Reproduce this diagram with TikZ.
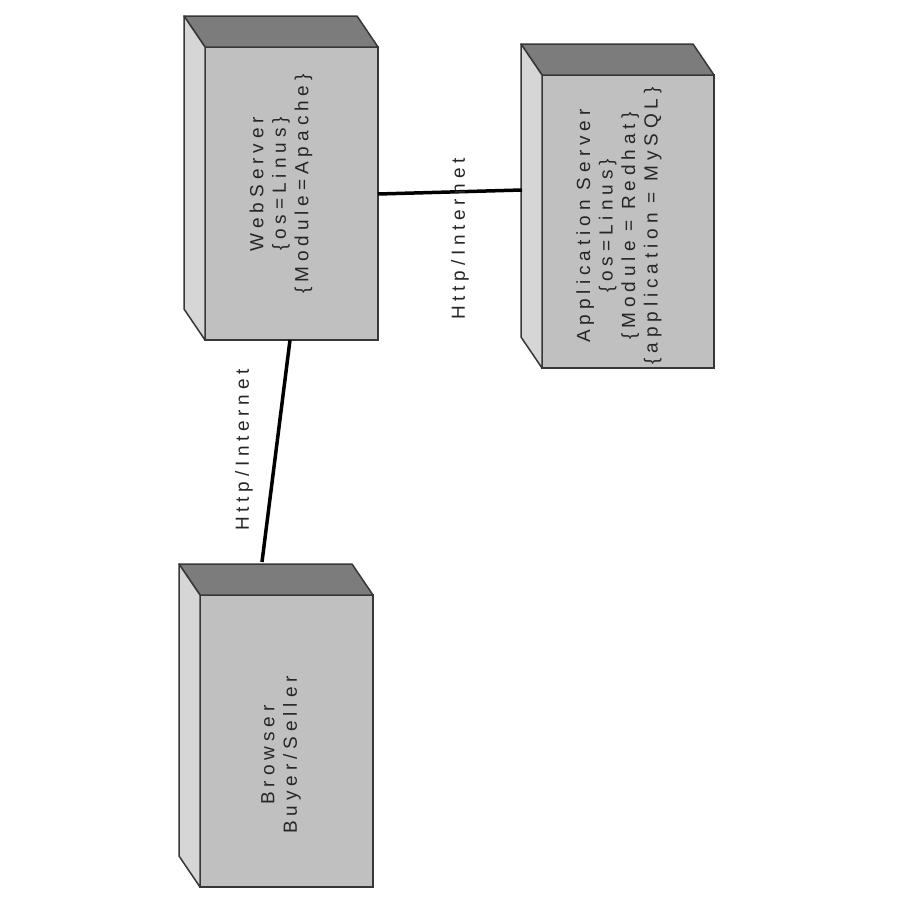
\documentclass[tikz,border=0pt]{standalone}
\usepackage{fontspec}
\setmainfont{Liberation Sans}
\newfontfamily\spaced[LetterSpace=26]{Liberation Sans}
\newfontfamily\labelspaced[LetterSpace=25]{Liberation Sans}
\usetikzlibrary{calc}
\definecolor{boxfront}{RGB}{192,192,192}
\definecolor{boxtop}{RGB}{124,124,124}
\definecolor{boxside}{RGB}{214,214,214}
\definecolor{boxedge}{RGB}{55,55,55}
\begin{document}
\begin{tikzpicture}[x=1pt,y=-1pt,
  front/.style={draw=boxedge, line width=1.5pt, fill=boxfront, inner sep=0pt, outer sep=0pt},
  topface/.style={draw=boxedge, line width=1.5pt, fill=boxtop, line join=round},
  sideface/.style={draw=boxedge, line width=1.5pt, fill=boxside, line join=round},
  boxtext/.style={rotate=90, align=center, font=\spaced\fontsize{19}{22.5}\selectfont, inner sep=0pt, text=black!85},
  linklabel/.style={rotate=90, font=\labelspaced\fontsize{19}{22}\selectfont, inner sep=0pt, text=black!85},
  link/.style={line width=3.5pt, black}]
\useasboundingbox (0,0) rectangle (900,900);

% front faces of the three deployment nodes
\node[front, minimum width=173pt, minimum height=293pt] (web) at (291.5,193.5) {};
\node[front, minimum width=172pt, minimum height=293pt] (app) at (628,221.5) {};
\node[front, minimum width=173pt, minimum height=292pt] (browser) at (286.5,741) {};

% top and side faces giving the 3D look
\foreach \n in {web,app,browser}{
  \draw[topface] (\n.north west) -- ++(-21,-31) -- ($(\n.north east)+(-21,-31)$) -- (\n.north east) -- cycle;
  \draw[sideface] (\n.north west) -- ++(-21,-31) -- ($(\n.south west)+(-21,-31)$) -- (\n.south west) -- cycle;
}

% node texts
\node[boxtext] (webtext) at (281,184) {WebServer\\\{os=Linus\}\\\{Module=Apache\}};
\node[boxtext] (apptext) at (619,226) {Application Server\\\{os=Linus\}\\\{Module = Redhat\}\\\{application = MySQL\}};
\node[boxtext] (browsertext) at (281,755) {Browser\\Buyer/Seller};

% communication paths
\draw[link] ([xshift=-1.5pt]web.south) -- ($(browser.north)+(-24.5,-33)$);
\draw[link] ([yshift=-0.5pt]web.east) -- ($(app.west)+(-20,-31.5)$);

\node[linklabel] (lbl1) at (244,450) {Http/Internet};
\node[linklabel] (lbl2) at (460,239) {Http/Internet};
\end{tikzpicture}
\end{document}
